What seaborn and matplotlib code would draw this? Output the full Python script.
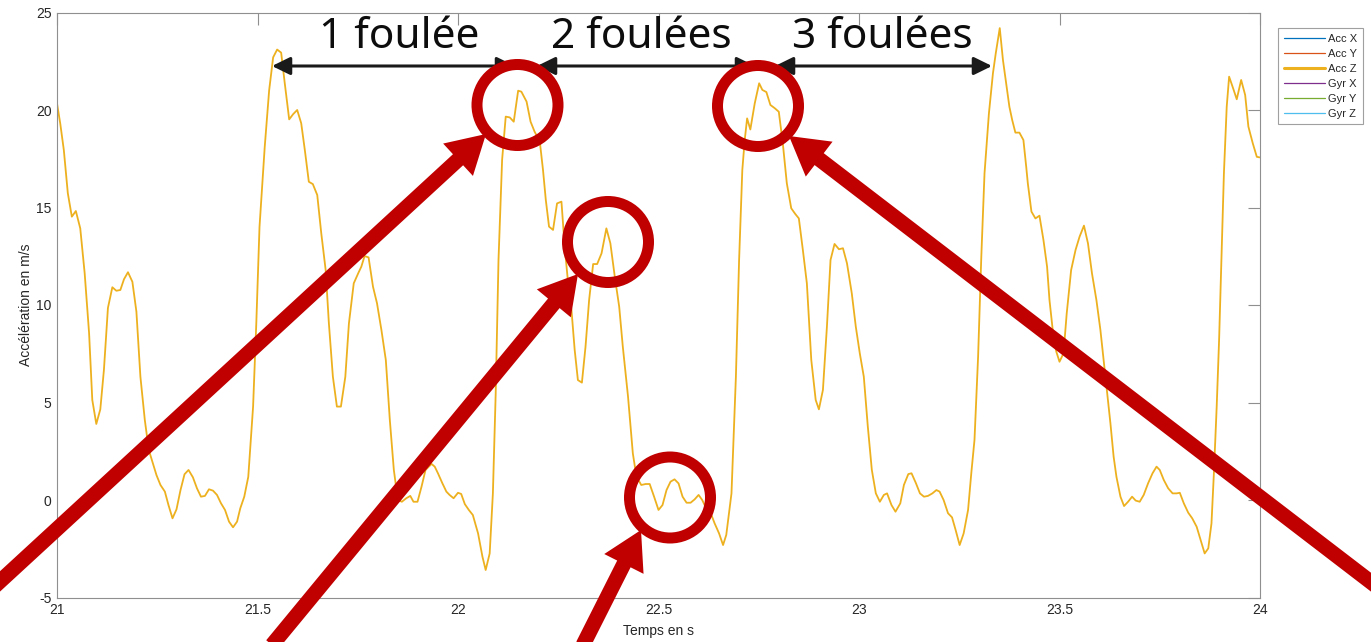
import matplotlib
matplotlib.use("Agg")
import matplotlib.pyplot as plt
import pandas as pd
import seaborn as sns
from matplotlib.lines import Line2D
from matplotlib.patches import Circle, FancyArrow, FancyArrowPatch
from matplotlib.transforms import IdentityTransform

# Vertical acceleration (Acc Z) of a runner, 21 s to 24 s
time_s = [
    21.000, 21.008, 21.017, 21.027, 21.037, 21.047, 21.058, 21.069, 21.080, 21.088,
    21.098, 21.108, 21.117, 21.127, 21.138, 21.148, 21.158, 21.167, 21.177, 21.188,
    21.198, 21.208, 21.219, 21.229, 21.239, 21.248, 21.258, 21.269, 21.278, 21.288,
    21.298, 21.308, 21.318, 21.328, 21.339, 21.349, 21.359, 21.369, 21.379, 21.389,
    21.399, 21.409, 21.419, 21.429, 21.439, 21.449, 21.457, 21.467, 21.477, 21.489,
    21.497, 21.505, 21.518, 21.529, 21.539, 21.549, 21.559, 21.568, 21.579, 21.589,
    21.599, 21.609, 21.618, 21.628, 21.638, 21.649, 21.659, 21.670, 21.678, 21.688,
    21.698, 21.708, 21.719, 21.728, 21.740, 21.751, 21.759, 21.767, 21.777, 21.788,
    21.798, 21.809, 21.820, 21.830, 21.840, 21.850, 21.860, 21.871, 21.881, 21.889,
    21.899, 21.909, 21.919, 21.934, 21.942, 21.950, 21.961, 21.971, 21.979, 21.989,
    22.000, 22.008, 22.017, 22.027, 22.037, 22.050, 22.061, 22.069, 22.079, 22.087,
    22.094, 22.101, 22.110, 22.119, 22.129, 22.139, 22.150, 22.158, 22.171, 22.181,
    22.191, 22.204, 22.212, 22.219, 22.227, 22.237, 22.247, 22.258, 22.266, 22.277,
    22.283, 22.291, 22.299, 22.309, 22.318, 22.327, 22.337, 22.347, 22.358, 22.370,
    22.380, 22.391, 22.402, 22.411, 22.424, 22.436, 22.445, 22.457, 22.468, 22.478,
    22.489, 22.500, 22.510, 22.520, 22.530, 22.540, 22.550, 22.560, 22.570, 22.580,
    22.590, 22.600, 22.609, 22.619, 22.632, 22.640, 22.651, 22.661, 22.669, 22.682,
    22.693, 22.701, 22.709, 22.715, 22.721, 22.729, 22.740, 22.751, 22.759, 22.769,
    22.779, 22.790, 22.800, 22.810, 22.820, 22.831, 22.841, 22.850, 22.860, 22.870,
    22.881, 22.892, 22.900, 22.910, 22.920, 22.929, 22.939, 22.950, 22.960, 22.970,
    22.982, 22.992, 23.002, 23.012, 23.022, 23.032, 23.042, 23.052, 23.062, 23.070,
    23.081, 23.091, 23.103, 23.112, 23.123, 23.131, 23.142, 23.152, 23.162, 23.172,
    23.183, 23.193, 23.201, 23.211, 23.222, 23.232, 23.241, 23.251, 23.261, 23.272,
    23.280, 23.288, 23.297, 23.305, 23.313, 23.324, 23.334, 23.341, 23.351, 23.359,
    23.367, 23.375, 23.382, 23.390, 23.400, 23.410, 23.417, 23.421, 23.430, 23.440,
    23.450, 23.460, 23.469, 23.475, 23.484, 23.492, 23.500, 23.510, 23.518, 23.529,
    23.540, 23.550, 23.561, 23.571, 23.581, 23.592, 23.602, 23.610, 23.618, 23.627,
    23.635, 23.642, 23.652, 23.661, 23.671, 23.681, 23.690, 23.700, 23.710, 23.721,
    23.732, 23.742, 23.750, 23.760, 23.771, 23.782, 23.792, 23.800, 23.810, 23.821,
    23.831, 23.842, 23.852, 23.862, 23.871, 23.879, 23.885, 23.892, 23.898, 23.904,
    23.910, 23.917, 23.923, 23.933, 23.942, 23.953, 23.963, 23.971, 23.982, 23.992,
    23.999,
]
acc_z = [
    20.34, 19.32, 17.95, 15.73, 14.53, 14.82, 13.93, 11.63, 8.56, 5.13,
    3.90, 4.65, 6.67, 9.85, 10.91, 10.73, 10.77, 11.32, 11.68, 11.19,
    9.66, 6.32, 4.10, 2.56, 1.88, 1.28, 0.77, 0.43, -0.26, -0.94,
    -0.48, 0.51, 1.32, 1.54, 1.16, 0.60, 0.17, 0.21, 0.55, 0.48,
    0.26, -0.17, -0.51, -1.11, -1.40, -1.11, -0.43, 0.17, 1.19, 4.79,
    9.06, 14.00, 18.10, 21.00, 22.70, 23.10, 22.94, 21.37, 19.52, 19.79,
    20.00, 19.32, 17.95, 16.32, 16.20, 15.64, 13.68, 11.79, 9.06, 6.32,
    4.79, 4.79, 6.32, 9.06, 11.11, 11.62, 11.97, 12.51, 12.44, 10.94,
    10.09, 8.72, 7.18, 4.10, 1.54, 0.00, -0.09, 0.09, 0.21, -0.09,
    -0.09, 0.68, 1.54, 1.85, 1.71, 1.37, 0.86, 0.43, 0.26, 0.09,
    0.37, 0.31, -0.21, -0.51, -0.77, -1.71, -2.91, -3.59, -2.74, 0.34,
    5.47, 12.31, 17.44, 19.66, 19.62, 19.40, 20.99, 20.94, 20.43, 19.40,
    18.89, 18.38, 16.92, 15.38, 14.02, 13.85, 15.21, 15.30, 12.99, 10.60,
    9.74, 7.69, 6.15, 6.02, 7.86, 10.26, 12.10, 12.10, 12.65, 13.93,
    13.16, 11.45, 9.91, 7.86, 5.30, 2.39, 1.20, 0.77, 0.82, 0.82,
    0.17, -0.51, -0.26, 0.51, 0.94, 1.06, 0.85, 0.17, -0.14, -0.14,
    0.03, 0.26, 0.00, -0.43, -0.77, -1.20, -1.71, -2.31, -1.79, 0.34,
    6.32, 12.31, 16.92, 18.46, 19.57, 19.00, 20.34, 21.37, 21.03, 20.92,
    20.26, 20.09, 19.91, 18.29, 16.24, 14.96, 14.67, 14.44, 12.82, 11.11,
    7.18, 5.13, 4.65, 5.64, 8.89, 12.31, 13.13, 12.86, 12.91, 12.14,
    10.60, 8.89, 7.52, 6.32, 3.76, 1.54, 0.34, -0.09, 0.26, 0.34,
    -0.26, -0.60, -0.17, 0.77, 1.33, 1.37, 0.86, 0.34, 0.17, 0.21,
    0.34, 0.51, 0.43, 0.00, -0.68, -0.89, -1.54, -2.31, -1.71, -0.51,
    1.37, 3.08, 7.35, 12.48, 16.75, 19.83, 21.88, 22.90, 24.20, 22.56,
    21.37, 20.17, 19.49, 18.84, 18.84, 18.46, 17.09, 16.24, 14.79, 14.44,
    14.58, 13.33, 11.97, 10.26, 8.55, 7.61, 7.09, 7.52, 9.57, 11.79,
    12.82, 13.50, 14.07, 13.16, 11.62, 10.26, 8.72, 7.18, 5.64, 3.93,
    2.22, 1.19, 0.17, -0.31, -0.09, 0.17, -0.03, -0.09, 0.26, 0.86,
    1.37, 1.71, 1.54, 1.03, 0.60, 0.34, 0.34, 0.37, -0.17, -0.65,
    -0.94, -1.37, -2.05, -2.74, -2.48, -1.20, 1.37, 4.79, 8.21, 12.48,
    16.75, 20.17, 21.71, 21.11, 20.55, 21.54, 20.77, 19.15, 18.29, 17.60,
    17.57,
]

x_ticks = [21, 21.5, 22, 22.5, 23, 23.5, 24]
x_tick_labels = ["21", "21.5", "22", "22.5", "23", "23.5", "24"]
y_ticks = [-5, 0, 5, 10, 15, 20, 25]
y_tick_labels = ["-5", "0", "5", "10", "15", "20", "25"]

series_names = ["Acc X", "Acc Y", "Acc Z", "Gyr X", "Gyr Y", "Gyr Z"]
series_colors = ["#0072BD", "#D95319", "#EDB120", "#7E2F8E", "#77AC30", "#4DBEEE"]

stride_labels = ["1 foulée", "2 foulées", "3 foulées"]

W, H = 1371, 642
RED = "#C00000"
AXIS_GRAY = "#8f8f8f"
TEXT_GRAY = "#262626"

sns.set_theme(style="white")
plt.rcParams["font.family"] = ["Liberation Sans", "DejaVu Sans"]


def fp(x, y):
    """Figure pixel position measured from the top-left corner."""
    return (x, H - y)


fig = plt.figure(figsize=(W / 100, H / 100), dpi=100)
fig.patch.set_facecolor("white")
ax = fig.add_axes([57 / W, 1 - 597.5 / H, (1260 - 57) / W, 585 / H])

df = pd.DataFrame({"t": time_s, "acc_z": acc_z})
sns.lineplot(data=df, x="t", y="acc_z", ax=ax, color=series_colors[2],
             linewidth=1.3, estimator=None, sort=False, legend=False)

ax.set_xlim(21, 24)
ax.set_ylim(-5, 25)
ax.set_xticks(x_ticks)
ax.set_xticklabels(x_tick_labels)
ax.set_yticks(y_ticks)
ax.set_yticklabels(y_tick_labels)
ax.grid(False)
ax.set_facecolor("white")
for side in ["left", "right", "top", "bottom"]:
    ax.spines[side].set_visible(True)
    ax.spines[side].set_color(AXIS_GRAY)
    ax.spines[side].set_linewidth(0.8)
ax.tick_params(which="both", direction="in", top=True, right=True,
               length=8.6, width=0.8, color=AXIS_GRAY,
               labelcolor=TEXT_GRAY, labelsize=10, pad=4)
ax.set_xlabel("Temps en s", fontsize=10, color=TEXT_GRAY, labelpad=5)
ax.set_ylabel("Accélération en m/s", fontsize=10, color=TEXT_GRAY, labelpad=2)

# Legend with the six sensor channels
handles = [Line2D([0], [0], color=c, lw=(2.2 if n == "Acc Z" else 0.9))
           for n, c in zip(series_names, series_colors)]
leg = fig.legend(handles, series_names, loc="upper left",
                 bbox_to_anchor=(1278 / W, 1 - 28 / H), bbox_transform=fig.transFigure,
                 frameon=True, fancybox=False, shadow=False, framealpha=1,
                 edgecolor="#a0a0a0", fontsize=8, handlelength=3.7,
                 handletextpad=0.3, labelspacing=0.45, borderpad=0.5,
                 borderaxespad=0)
leg.get_frame().set_linewidth(0.8)
for txt in leg.get_texts():
    txt.set_color(TEXT_GRAY)

ident = IdentityTransform()

# Stride spans: double-headed black arrows with their labels
stride_spans = [(272, 515), (537, 755), (775, 992)]
stride_text_x = [399, 641, 882]
for (x0, x1), label, tx in zip(stride_spans, stride_labels, stride_text_x):
    arr = FancyArrowPatch(fp(x0, 66), fp(x1, 66), transform=ident,
                          arrowstyle="<|-|>,head_length=0.55,head_width=0.27",
                          mutation_scale=20, lw=2.2, color="#1a1a1a",
                          shrinkA=0, shrinkB=0, zorder=5)
    fig.add_artist(arr)
    fig.text(tx / W, 1 - 48 / H, label, ha="center", va="baseline",
             fontsize=30.5, color="#0d0d0d",
             family=["Noto Sans", "DejaVu Sans"], zorder=6)

# Red rings around the highlighted peaks
ring_centers = [(517.5, 105), (608, 242), (670, 497.5), (758, 106)]
for cx, cy in ring_centers:
    ring = Circle(fp(cx, cy), radius=40.5, fill=False, edgecolor=RED,
                  linewidth=11 * 0.72, transform=ident, zorder=8)
    fig.add_artist(ring)

# Thick red pointers toward the rings
pointers = [((-5, 586), (486, 134)), ((272, 645), (578, 274)),
            ((583, 645), (641, 530)), ((1376, 586), (789, 136))]
for (xa, ya), (xb, yb) in pointers:
    xs, ys = fp(xa, ya)
    xe, ye = fp(xb, yb)
    ptr = FancyArrow(xs, ys, xe - xs, ye - ys, width=15, head_width=44,
                     head_length=38, length_includes_head=True,
                     color=RED, linewidth=0, transform=ident, zorder=9)
    fig.add_artist(ptr)

fig.savefig("out.png", dpi=100)
